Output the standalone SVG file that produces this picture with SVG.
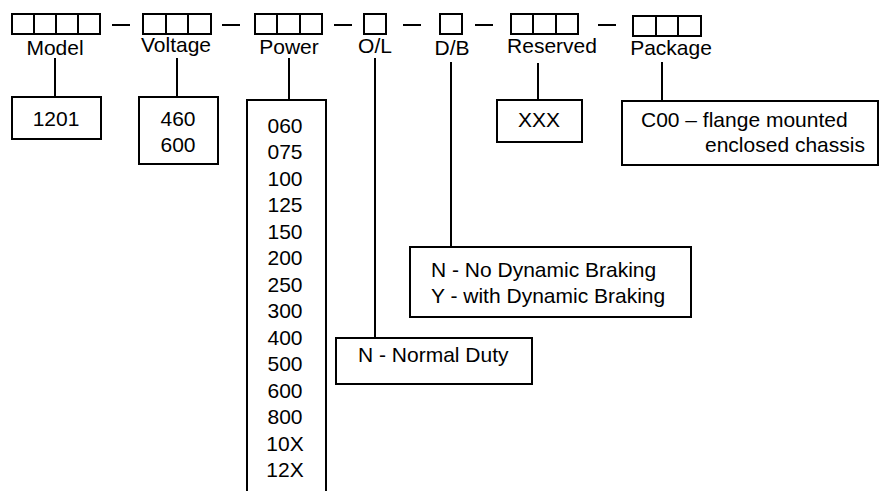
<svg xmlns="http://www.w3.org/2000/svg" width="880" height="491" viewBox="0 0 880 491">
<style>
.sq{fill:none;stroke:#000;stroke-width:2}
.bx{fill:#fff;stroke:#000;stroke-width:2}
.ln{stroke:#000;stroke-width:2;fill:none}
text{font-family:"Liberation Sans",Arial,sans-serif;font-size:21px;fill:#000}
.c{text-anchor:middle}
</style>
<rect width="880" height="491" fill="#fff"/>
<g id="code">
<path class="sq" d="M12,14h88v20h-88z M34,14v20 M56,14v20 M78,14v20"/>
<path class="sq" d="M143,14h68v20h-68z M166,14v20 M188,14v20"/>
<path class="sq" d="M255,14h67v20h-67z M277,14v20 M300,14v20"/>
<path class="sq" d="M364,14h22v20h-22z"/>
<path class="sq" d="M440,14h22v20h-22z"/>
<path class="sq" d="M511,14h67v20h-67z M533,14v20 M556,14v20"/>
<path class="sq" d="M633,16h68v20h-68z M656,16v20 M678,16v20"/>
<path class="ln" d="M112,25h18 M222,25h18 M334,25h18 M403,25h18 M475,25h18 M598,25h18"/>
<text class="c" x="55" y="55">Model</text>
<text class="c" x="176" y="52">Voltage</text>
<text class="c" x="289" y="54">Power</text>
<text class="c" x="375" y="53">O/L</text>
<text class="c" x="452" y="55">D/B</text>
<text class="c" x="552" y="53">Reserved</text>
<text class="c" x="671" y="55">Package</text>
</g>
<g id="connectors">
<path class="ln" d="M55,58V97 M177,58V97 M289,58V100 M375,58V338 M451,62V247 M538,63V100 M662,62V101"/>
</g>
<g id="model">
<rect class="bx" x="12" y="97" width="89" height="42"/>
<text class="c" x="56" y="126">1201</text>
</g>
<g id="voltage">
<rect class="bx" x="139" y="97" width="79" height="67"/>
<text class="c" x="178" y="126">460</text>
<text class="c" x="178" y="152">600</text>
</g>
<g id="power">
<rect class="bx" x="247" y="100" width="79" height="400"/>
<text class="c" x="285" y="132.5">060</text>
<text class="c" x="285" y="159">075</text>
<text class="c" x="285" y="185.5">100</text>
<text class="c" x="285" y="212">125</text>
<text class="c" x="285" y="238.5">150</text>
<text class="c" x="285" y="265">200</text>
<text class="c" x="285" y="291.5">250</text>
<text class="c" x="285" y="318">300</text>
<text class="c" x="285" y="344.5">400</text>
<text class="c" x="285" y="371">500</text>
<text class="c" x="285" y="397.5">600</text>
<text class="c" x="285" y="424">800</text>
<text class="c" x="285" y="450.5">10X</text>
<text class="c" x="285" y="477">12X</text>
</g>
<g id="ol">
<rect class="bx" x="336" y="338" width="196" height="46"/>
<text x="358" y="362">N - Normal Duty</text>
</g>
<g id="db">
<rect class="bx" x="410" y="247" width="281" height="70"/>
<text x="431" y="277">N - No Dynamic Braking</text>
<text x="431" y="303">Y - with Dynamic Braking</text>
</g>
<g id="reserved">
<rect class="bx" x="497" y="100" width="85" height="42"/>
<text class="c" x="539" y="127">XXX</text>
</g>
<g id="package">
<rect class="bx" x="622" y="101" width="256" height="64"/>
<text x="641" y="127">C00 – flange mounted</text>
<text x="705" y="152">enclosed chassis</text>
</g>
</svg>
